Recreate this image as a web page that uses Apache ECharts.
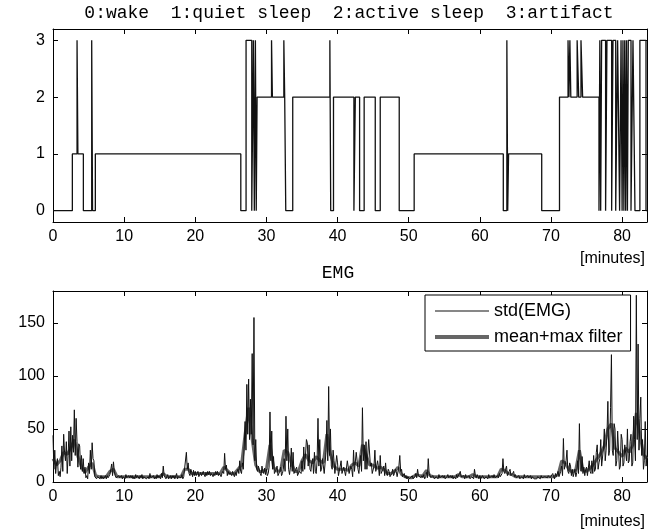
<!DOCTYPE html>
<html>
<head>
<meta charset="utf-8">
<title>Sleep stages and EMG</title>
<script src="https://cdn.jsdelivr.net/npm/echarts@6/dist/echarts.min.js"></script>
<style>
  html, body { margin: 0; padding: 0; background: #fff; }
  #chart { width: 662px; height: 531px; }
</style>
</head>
<body>
<div id="chart"></div>
<script>
// hypnogram: time (min) where a stage starts, and the stage
const stageTimes = [
  0, 2.72, 3.38, 3.5, 4.27, 5.44, 5.56, 5.95, 26.4, 27.14, 27.94, 28.17, 28.3, 28.45, 28.57, 28.69,
  30.72, 30.84, 32.45, 32.57, 32.72, 33.7, 38.92, 39.04, 39.43, 42.3, 42.5, 43.1, 43.74, 45.3, 46.0,
  48.67, 50.77, 63.3, 63.8, 63.92, 64.04, 68.7, 71.2, 72.4, 72.53, 72.66, 72.79, 73.68, 73.9, 74.22,
  74.45, 76.75, 76.87, 76.99, 77.12, 77.68, 77.87, 78.53, 78.72, 79.1, 79.37, 79.65, 79.85, 80.0,
  80.12, 80.25, 80.37, 80.5, 80.62, 80.75, 80.87, 81.25, 81.53, 81.81, 82.5, 83.36
];
const stageValues = [
  0, 1, 3, 1, 0, 3, 0, 1, 0, 3, 0, 3, 0, 3, 0, 2,
  3, 2, 3, 2, 0, 2, 3, 0, 2, 0, 2, 0, 2, 0, 2,
  0, 1, 0, 3, 0, 1, 0, 2, 3, 2, 3, 2, 3, 2, 3,
  2, 0, 3, 0, 3, 0, 3, 0, 3, 0, 3, 0, 3, 0,
  3, 0, 3, 0, 3, 0, 3, 0, 3, 0, 3, 0
];
const stageEnd = 83.5;

// std(EMG), one value every 0.125 min (one row per minute)
const stdStep = 0.125;
const emgStd = [
  44, 12, 30, 8, 18, 22, 6, 10,
  5, 14, 34, 10, 45, 28, 20, 38,
  8, 25, 48, 15, 52, 20, 44, 28,
  68, 25, 60, 38, 14, 36, 34, 12,
  25, 10, 22, 8, 14, 4, 6, 3,
  18, 8, 30, 12, 37, 22, 20, 5,
  6, 3, 5, 4, 5, 3, 6, 3,
  5, 3, 4, 6, 3, 6, 4, 3,
  7, 12, 17, 6, 19, 10, 6, 4,
  5, 3, 6, 4, 3, 6, 3, 5,
  5, 3, 7, 4, 3, 6, 4, 6,
  4, 6, 3, 5, 3, 7, 4, 6,
  5, 3, 6, 4, 7, 3, 5, 4,
  6, 3, 4, 5, 3, 8, 4, 5,
  4, 6, 3, 5, 3, 7, 4, 6,
  5, 3, 8, 4, 15, 6, 5, 3,
  5, 7, 3, 4, 6, 3, 6, 4,
  6, 3, 4, 8, 3, 5, 4, 6,
  4, 7, 3, 5, 6, 4, 28, 12,
  18, 8, 6, 12, 9, 5, 11, 6,
  10, 6, 8, 10, 5, 7, 9, 6,
  6, 10, 7, 5, 9, 6, 10, 7,
  10, 6, 8, 9, 5, 8, 6, 10,
  7, 10, 6, 8, 9, 5, 8, 10,
  8, 27, 12, 16, 6, 10, 7, 9,
  8, 6, 10, 7, 5, 9, 6, 10,
  12, 8, 20, 10, 8, 18, 12, 33,
  57, 30, 92, 45, 97, 40, 78, 45,
  121, 35, 155, 20, 40, 12, 10, 15,
  14, 8, 6, 15, 10, 8, 13, 7,
  12, 6, 8, 14, 66, 20, 48, 12,
  24, 8, 7, 12, 15, 6, 6, 10,
  14, 6, 8, 12, 22, 10, 62, 20,
  50, 12, 7, 14, 32, 10, 28, 8,
  8, 12, 14, 6, 6, 10, 11, 8,
  20, 10, 33, 12, 12, 40, 37, 15,
  35, 12, 10, 18, 22, 8, 28, 10,
  8, 20, 60, 15, 40, 10, 12, 22,
  22, 8, 8, 28, 58, 20, 90, 25,
  50, 15, 12, 30, 20, 8, 8, 25,
  18, 6, 6, 15, 20, 8, 9, 14,
  15, 6, 5, 20, 20, 8, 8, 15,
  12, 5, 30, 10, 10, 28, 28, 12,
  8, 18, 25, 10, 70, 20, 35, 12,
  38, 12, 12, 40, 40, 15, 18, 8,
  8, 15, 30, 10, 10, 20, 14, 6,
  25, 8, 7, 12, 15, 6, 18, 8,
  6, 12, 10, 5, 5, 8, 12, 6,
  8, 12, 10, 5, 6, 15, 25, 10,
  12, 5, 6, 8, 4, 6, 3, 5,
  5, 3, 3, 4, 6, 3, 3, 5,
  8, 4, 12, 6, 5, 7, 4, 6,
  4, 7, 3, 5, 9, 4, 22, 8,
  8, 4, 4, 6, 7, 3, 3, 5,
  5, 3, 7, 4, 3, 5, 6, 4,
  6, 3, 3, 5, 7, 4, 4, 6,
  4, 6, 3, 5, 5, 3, 7, 4,
  5, 3, 10, 5, 4, 6, 6, 3,
  7, 4, 3, 5, 6, 3, 4, 5,
  6, 3, 12, 6, 4, 7, 7, 3,
  6, 3, 4, 6, 7, 3, 4, 5,
  5, 3, 7, 4, 3, 5, 6, 4,
  7, 4, 5, 3, 6, 4, 8, 5,
  5, 8, 22, 10, 8, 12, 15, 6,
  6, 10, 12, 6, 5, 8, 10, 5,
  7, 4, 3, 5, 6, 3, 4, 5,
  5, 3, 7, 4, 3, 5, 6, 4,
  4, 6, 3, 5, 5, 3, 3, 4,
  3, 5, 4, 6, 3, 6, 4, 5,
  3, 5, 6, 4, 4, 6, 7, 4,
  5, 3, 8, 5, 3, 8, 5, 6,
  10, 5, 6, 10, 15, 6, 41, 12,
  12, 20, 30, 10, 8, 18, 15, 6,
  12, 5, 6, 12, 5, 9, 20, 8,
  55, 12, 10, 24, 8, 14, 6, 12,
  14, 6, 6, 20, 10, 8, 20, 8,
  25, 10, 12, 28, 35, 12, 18, 22,
  40, 15, 16, 32, 50, 20, 30, 45,
  76, 25, 30, 70, 120, 30, 25, 55,
  50, 15, 20, 48, 30, 12, 15, 45,
  40, 15, 18, 35, 35, 20, 50, 18,
  20, 38, 45, 15, 18, 62, 40, 20,
  176, 40, 130, 30, 60, 80, 25, 40,
  12, 20, 57, 15, 25
];

// mean+max filter, one value every 0.5 min
const filterStep = 0.5;
const emgFilter = [
  22, 16, 20, 28, 26, 32, 40, 24, 14, 9, 14, 18, 6, 5, 5, 5,
  10, 12, 5, 5, 5, 5, 5, 5, 5, 5, 5, 5, 5, 5, 5, 8,
  5, 5, 5, 5, 5, 12, 12, 8, 8, 8, 8, 8, 8, 8, 8, 8,
  14, 11, 8, 8, 12, 16, 45, 70, 40, 16, 10, 10, 12, 35, 14, 10,
  11, 30, 28, 18, 10, 10, 20, 26, 20, 18, 24, 20, 18, 45, 26, 15,
  12, 12, 12, 11, 16, 18, 15, 35, 26, 16, 16, 13, 14, 12, 8, 8,
  10, 14, 7, 5, 4, 4, 7, 6, 6, 11, 6, 5, 5, 5, 5, 5,
  5, 5, 7, 5, 5, 5, 7, 5, 5, 5, 5, 5, 5, 5, 12, 11,
  8, 7, 5, 5, 5, 5, 5, 5, 5, 5, 5, 5, 5, 5, 7, 20,
  18, 12, 9, 12, 30, 11, 10, 13, 17, 22, 27, 34, 50, 55, 32, 28,
  24, 32, 28, 35, 65, 45, 26, 22
];

const xTicks = [0, 10, 20, 30, 40, 50, 60, 70, 80];
const stageTicks = [0, 1, 2, 3];
const emgTicks = [0, 50, 100, 150];

// hypnogram corners: each change is a vertical jump at its start time
const stageData = [];
stageTimes.forEach((t, i) => {
  if (i > 0) stageData.push([t, stageValues[i - 1]]);
  stageData.push([t, stageValues[i]]);
});
stageData.push([stageEnd, stageValues[stageValues.length - 1]]);
const stdData = emgStd.map((v, i) => [i * stdStep, v]);
const filterData = emgFilter.map((v, i) => [i * filterStep, v]);

const labelFont = { fontFamily: "Liberation Sans", fontSize: 16, color: "#000" };
const black = "#000";

function xAxisPair(gridIndex) {
  const base = {
    type: "value", gridIndex: gridIndex, min: 0, max: 83.5,
    axisLine: { show: true, onZero: false, lineStyle: { color: black, width: 1 } },
    splitLine: { show: false }
  };
  return [
    Object.assign({}, base, {
      position: "bottom",
      axisTick: { inside: true, length: 5, lineStyle: { color: black }, customValues: xTicks },
      axisLabel: Object.assign({ margin: 7, customValues: xTicks }, labelFont)
    }),
    Object.assign({}, base, {
      position: "top",
      axisTick: { inside: true, length: 5, lineStyle: { color: black }, customValues: xTicks },
      axisLabel: { show: false }
    })
  ];
}

function yAxisPair(gridIndex, min, max, ticks) {
  const base = {
    type: "value", gridIndex: gridIndex, min: min, max: max,
    axisLine: { show: true, onZero: false, lineStyle: { color: black, width: 1 } },
    splitLine: { show: false }
  };
  return [
    Object.assign({}, base, {
      position: "left",
      axisTick: { show: true, inside: true, length: 5, lineStyle: { color: black }, customValues: ticks },
      axisLabel: Object.assign({ margin: 8, customValues: ticks }, labelFont)
    }),
    Object.assign({}, base, {
      position: "right",
      axisTick: { show: true, inside: true, length: 5, lineStyle: { color: black }, customValues: ticks },
      axisLabel: { show: false }
    })
  ];
}

const chart = echarts.init(document.getElementById("chart"), null, { renderer: "canvas" });

const option = {
  animation: false,
  backgroundColor: "#fff",
  title: [
    {
      text: "0:wake  1:quiet sleep  2:active sleep  3:artifact",
      left: 349,
      textAlign: "center",
      top: 4,
      padding: 0,
      textStyle: { fontFamily: "Liberation Mono", fontSize: 18, fontWeight: "normal", color: black }
    },
    {
      text: "EMG",
      left: 338,
      textAlign: "center",
      top: 264,
      padding: 0,
      textStyle: { fontFamily: "Liberation Mono", fontSize: 18, fontWeight: "normal", color: black }
    }
  ],
  grid: [
    { left: 53, top: 29, width: 594, height: 193 },
    { left: 53, top: 291, width: 594, height: 191 }
  ],
  xAxis: xAxisPair(0).concat(xAxisPair(1)),
  yAxis: yAxisPair(0, -0.2, 3.2, stageTicks).concat(yAxisPair(1, 0, 180, emgTicks)),
  legend: {
    left: 425,
    top: 295,
    orient: "vertical",
    padding: [7, 8, 5, 10],
    itemGap: 8,
    itemWidth: 54,
    itemHeight: 14,
    borderColor: black,
    borderWidth: 1,
    borderRadius: 0,
    backgroundColor: "#fff",
    textStyle: { fontFamily: "Liberation Sans", fontSize: 18, color: black },
    data: [
      { name: "std(EMG)", icon: "path://M0,0H54V1H0Z" },
      { name: "mean+max filter", icon: "path://M0,0H54V4H0Z" }
    ]
  },
  graphic: [
    {
      type: "text", right: 17, top: 251,
      style: { text: "[minutes]", font: "16px 'Liberation Sans'", fill: black }
    },
    {
      type: "text", right: 17, top: 514,
      style: { text: "[minutes]", font: "16px 'Liberation Sans'", fill: black }
    }
  ],
  series: [
    {
      name: "stage",
      type: "line",
      xAxisIndex: 0,
      yAxisIndex: 0,
      symbol: "none",
      data: stageData,
      itemStyle: { color: "#111" },
      lineStyle: { color: "#111", width: 1.3 }
    },
    {
      name: "mean+max filter",
      type: "line",
      xAxisIndex: 2,
      yAxisIndex: 2,
      symbol: "none",
      z: 2,
      data: filterData,
      itemStyle: { color: "#666" },
      lineStyle: { color: "#666", width: 3 }
    },
    {
      name: "std(EMG)",
      type: "line",
      xAxisIndex: 2,
      yAxisIndex: 2,
      symbol: "none",
      z: 3,
      data: stdData,
      itemStyle: { color: "#111" },
      lineStyle: { color: "#111", width: 1 }
    }
  ]
};

chart.setOption(option);
</script>
</body>
</html>
